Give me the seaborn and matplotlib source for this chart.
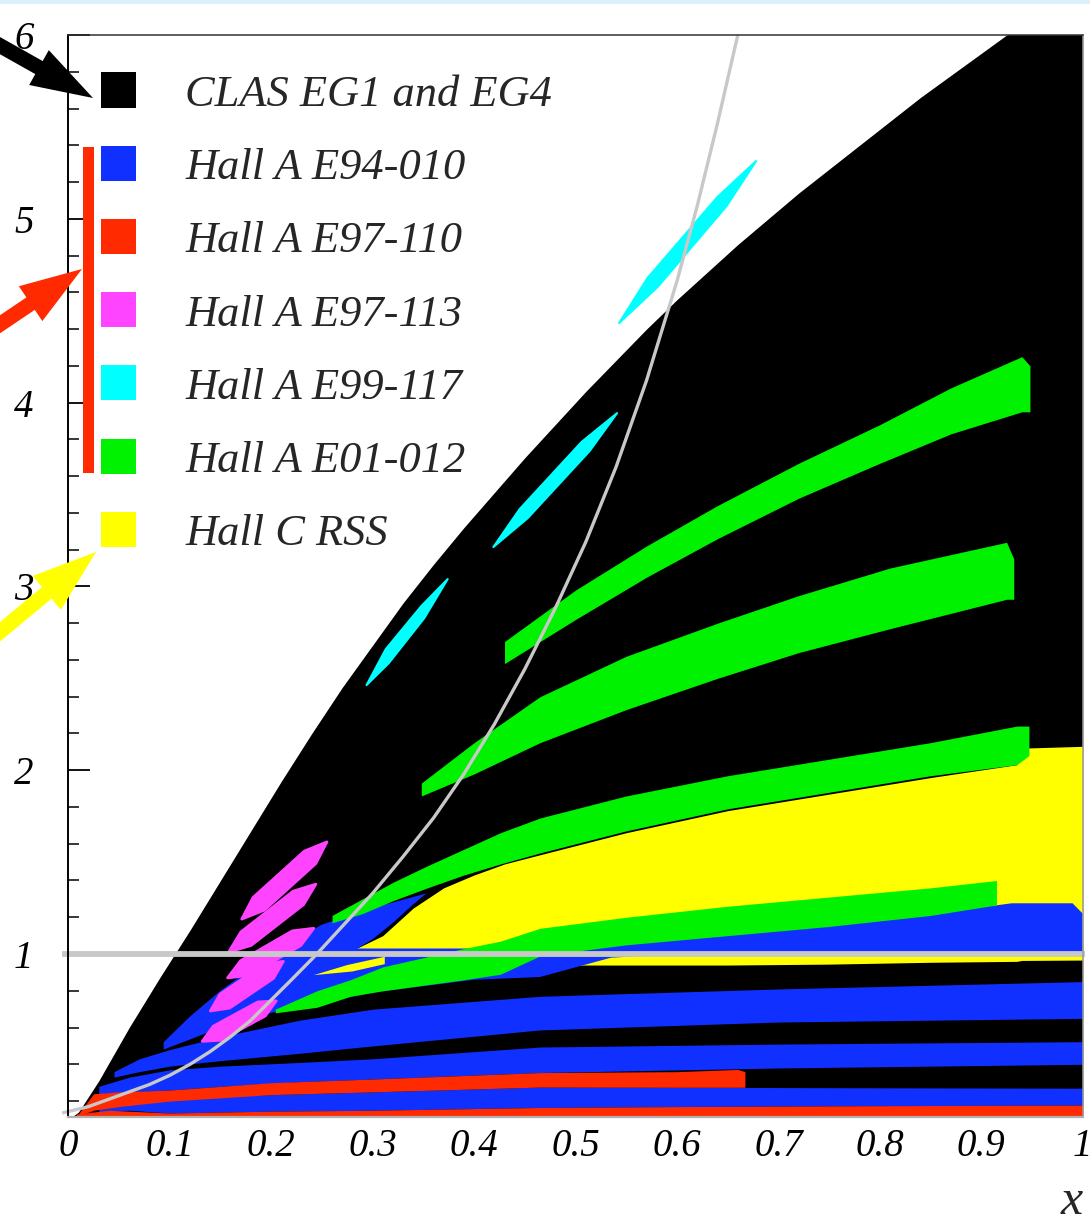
import numpy as np
import matplotlib
matplotlib.use("Agg")
import matplotlib.pyplot as plt
from matplotlib.patches import Rectangle, FancyArrow
from matplotlib.ticker import MultipleLocator, FixedLocator
import seaborn as sns

# ---------------- kinematic coverage in (x, Q^2) ----------------
# CLAS EG1/EG4: filled from the axis up to the upper kinematic edge
clas_x = [0.0, 0.01, 0.03, 0.06, 0.09, 0.12, 0.15, 0.18, 0.21, 0.24, 0.27, 0.30, 0.33,
          0.36, 0.39, 0.42, 0.45, 0.48, 0.51, 0.54, 0.57, 0.60, 0.63, 0.66, 0.69, 0.72,
          0.75, 0.78, 0.81, 0.84, 0.87, 0.90, 0.93, 0.96, 1.0]
clas_top = [0.10, 0.14, 0.31, 0.60, 0.87, 1.13, 1.40, 1.67, 1.94, 2.20, 2.45, 2.68, 2.91,
            3.12, 3.32, 3.51, 3.70, 3.88, 4.06, 4.23, 4.40, 4.56, 4.71, 4.86, 5.00, 5.14,
            5.27, 5.40, 5.53, 5.66, 5.78, 5.90, 6.02, 6.14, 6.30]

# Hall C RSS (main region and the small sliver near x = 0.27)
rss_x = [0.24, 0.28, 0.31, 0.34, 0.37, 0.40, 0.43, 0.465, 0.55, 0.65, 0.75, 0.85, 0.935, 0.94, 1.0]
rss_hi = [0.98, 1.02, 1.10, 1.25, 1.36, 1.43, 1.49, 1.54, 1.66, 1.78, 1.87, 1.96, 2.03, 2.12, 2.13]
rss_lo = [0.95, 0.95, 0.95, 0.94, 0.94, 0.94, 0.94, 0.94, 0.94, 0.94, 0.945, 0.955, 0.96, 0.965, 0.967]
rss_tip_x = [0.242, 0.275, 0.312, 0.312, 0.28]
rss_tip_y = [0.885, 0.94, 0.985, 0.945, 0.905]

# Hall A E94-010 (lower bands and the upper band)
e94_b3_x = [0.03, 0.06, 0.10, 0.20, 0.30, 0.465, 0.60, 0.80, 1.0]
e94_b3_hi = [0.17, 0.20, 0.215, 0.235, 0.25, 0.276, 0.275, 0.272, 0.27]
e94_b3_lo = [0.14, 0.15, 0.135, 0.145, 0.15, 0.165, 0.17, 0.175, 0.178]

e94_b2_x = [0.03, 0.06, 0.10, 0.15, 0.228, 0.30, 0.465, 0.70, 1.0]
e94_b2_hi = [0.28, 0.33, 0.37, 0.39, 0.41, 0.43, 0.494, 0.51, 0.523]
e94_b2_lo = [0.24, 0.25, 0.26, 0.28, 0.305, 0.32, 0.355, 0.38, 0.40]

e94_b1_x = [0.045, 0.07, 0.10, 0.15, 0.228, 0.30, 0.465, 0.70, 1.0]
e94_b1_hi = [0.36, 0.43, 0.48, 0.55, 0.64, 0.70, 0.77, 0.81, 0.85]
e94_b1_lo = [0.33, 0.36, 0.39, 0.42, 0.46, 0.50, 0.587, 0.63, 0.65]

e94_top_x = [0.094, 0.12, 0.15, 0.20, 0.25, 0.30, 0.353, 0.34, 0.32, 0.30, 0.285, 0.40,
             0.465, 0.55, 0.65, 0.75, 0.85, 0.915, 0.93, 0.99, 1.0, 1.0, 0.60, 0.535,
             0.465, 0.40, 0.30, 0.20, 0.15, 0.12, 0.094]
e94_top_y = [0.52, 0.66, 0.80, 1.00, 1.16, 1.25, 1.33, 1.27, 1.17, 1.08, 1.03, 1.03,
             1.04, 1.08, 1.12, 1.17, 1.23, 1.265, 1.276, 1.276, 1.22, 1.0, 1.0, 0.98,
             0.875, 0.86, 0.79, 0.68, 0.60, 0.535, 0.48]

# Hall A E97-110 (two bands)
e97110_r0_x = [0.008, 0.04, 0.10, 0.20, 0.30, 0.465, 0.60, 0.80, 1.0]
e97110_r0_hi = [0.13, 0.15, 0.135, 0.145, 0.15, 0.165, 0.17, 0.175, 0.178]
e97110_r0_lo = [0.0, 0.0, 0.0, 0.0, 0.0, 0.0, 0.0, 0.0, 0.0]

e97110_r1_x = [0.01, 0.025, 0.05, 0.10, 0.20, 0.30, 0.465, 0.60, 0.66, 0.667]
e97110_r1_hi = [0.13, 0.24, 0.25, 0.26, 0.30, 0.32, 0.355, 0.36, 0.372, 0.36]
e97110_r1_lo = [0.12, 0.15, 0.17, 0.20, 0.235, 0.25, 0.276, 0.275, 0.275, 0.275]

# Hall A E01-012 (four bands)
e01_g1_x = [0.430, 0.50, 0.57, 0.64, 0.72, 0.80, 0.87, 0.94, 0.948]
e01_g1_hi = [2.70, 2.98, 3.22, 3.44, 3.67, 3.88, 4.08, 4.25, 4.20]
e01_g1_lo = [2.58, 2.82, 3.05, 3.26, 3.48, 3.67, 3.83, 3.95, 3.95]

e01_g2_x = [0.348, 0.40, 0.465, 0.55, 0.64, 0.72, 0.81, 0.925, 0.932]
e01_g2_hi = [1.93, 2.15, 2.40, 2.62, 2.80, 2.95, 3.10, 3.24, 3.15]
e01_g2_lo = [1.86, 1.98, 2.15, 2.33, 2.50, 2.64, 2.77, 2.93, 2.93]

e01_g3_x = [0.26, 0.29, 0.32, 0.354, 0.39, 0.426, 0.465, 0.55, 0.65, 0.75, 0.85, 0.935, 0.947]
e01_g3_hi = [1.21, 1.30, 1.39, 1.48, 1.57, 1.66, 1.74, 1.86, 1.97, 2.06, 2.15, 2.24, 2.24]
e01_g3_lo = [1.17, 1.22, 1.29, 1.36, 1.43, 1.49, 1.55, 1.67, 1.79, 1.88, 1.97, 2.03, 2.08]

e01_g4_x = [0.204, 0.245, 0.278, 0.31, 0.35, 0.39, 0.426, 0.465, 0.55, 0.65, 0.75, 0.85, 0.915]
e01_g4_hi = [0.70, 0.80, 0.86, 0.93, 0.98, 1.03, 1.07, 1.14, 1.20, 1.26, 1.31, 1.36, 1.40]
e01_g4_lo = [0.68, 0.71, 0.77, 0.80, 0.83, 0.86, 0.89, 0.99, 1.05, 1.10, 1.15, 1.21, 1.267]

# Hall A E97-113 (five overlapping settings, outlines)
e97113_a_x = [0.171, 0.1934, 0.2440, 0.255, 0.2327, 0.1822]
e97113_a_y = [1.19, 1.239, 1.492, 1.61, 1.560, 1.308]
e97113_b_x = [0.158, 0.1803, 0.2320, 0.244, 0.2217, 0.1701]
e97113_b_y = [1.01, 1.047, 1.269, 1.38, 1.342, 1.120]
e97113_c_x = [0.157, 0.1781, 0.2292, 0.242, 0.2209, 0.1699]
e97113_c_y = [0.87, 0.884, 1.046, 1.14, 1.126, 0.964]
e97113_d_x = [0.140, 0.1591, 0.2024, 0.212, 0.1929, 0.1496]
e97113_d_y = [0.69, 0.706, 0.868, 0.96, 0.944, 0.782]
e97113_e_x = [0.132, 0.1503, 0.1942, 0.205, 0.1867, 0.1428]
e97113_e_y = [0.525, 0.531, 0.663, 0.745, 0.739, 0.607]

# Hall A E99-117 (three settings)
e99_1_x = [0.294, 0.316, 0.351, 0.374, 0.348, 0.313]
e99_1_y = [2.463, 2.583, 2.828, 3.040, 2.893, 2.659]
e99_2_x = [0.419, 0.453, 0.514, 0.541, 0.506, 0.445]
e99_2_y = [3.214, 3.372, 3.737, 3.943, 3.786, 3.421]
e99_3_x = [0.543, 0.581, 0.649, 0.678, 0.640, 0.571]
e99_3_y = [4.433, 4.629, 5.070, 5.314, 5.119, 4.678]

# W = 2 GeV line
w2_x = [-0.006, 0.02, 0.04, 0.06, 0.08, 0.10, 0.12, 0.14, 0.16, 0.18, 0.20, 0.22, 0.245,
        0.27, 0.30, 0.33, 0.36, 0.39, 0.42, 0.45, 0.48, 0.51, 0.54, 0.57, 0.60, 0.62,
        0.64, 0.66]
w2_q2 = [0.135, 0.17, 0.21, 0.25, 0.29, 0.34, 0.40, 0.47, 0.55, 0.64, 0.75, 0.86, 1.00,
         1.15, 1.33, 1.53, 1.74, 1.98, 2.25, 2.55, 2.88, 3.24, 3.65, 4.12, 4.66, 5.07,
         5.52, 6.0]

x_ticks = [0.0, 0.1, 0.2, 0.3, 0.4, 0.5, 0.6, 0.7, 0.8, 0.9, 1.0]
x_tick_labels = ["0", "0.1", "0.2", "0.3", "0.4", "0.5", "0.6", "0.7", "0.8", "0.9", "1"]
y_ticks = [1, 2, 3, 4, 5, 6]
y_tick_labels = ["1", "2", "3", "4", "5", "6"]

legend_labels = ["CLAS EG1 and EG4", "Hall A E94-010", "Hall A E97-110",
                 "Hall A E97-113", "Hall A E99-117", "Hall A E01-012", "Hall C RSS"]

BLACK = "#000000"
BLUE = "#1030ff"
RED = "#ff2a00"
MAGENTA = "#ff44ff"
CYAN = "#00ffff"
GREEN = "#00f200"
YELLOW = "#ffff00"
GREY = "#c8c8c8"
legend_colors = [BLACK, BLUE, RED, MAGENTA, CYAN, GREEN, YELLOW]

# ---------------- figure ----------------
sns.set_theme(style="white")
plt.rcParams["font.family"] = ["Liberation Serif", "DejaVu Serif"]
SERIF = ["Liberation Serif", "DejaVu Serif"]

W, H = 1090, 1224
fig = plt.figure(figsize=(W / 100, H / 100), dpi=100)
fig.patch.set_facecolor("white")


def fx(px):
    return px / W


def fy(py):
    return 1 - py / H


ax = fig.add_axes([fx(68.3), fy(1116.5), (1082.7 - 68.3) / W, (1116.5 - 35) / H])
ax.set_xlim(0, 1)
ax.set_ylim(0.116, 6.0)
ax.set_facecolor("white")


def band(x, lo, hi, color, z):
    ax.fill_between(x, lo, hi, color=color, lw=0, zorder=z)


def patch(x, y, color, z):
    ax.fill(x, y, color=color, lw=0, zorder=z)


band(clas_x, 0.0, clas_top, BLACK, 1)
band(rss_x, rss_lo, rss_hi, YELLOW, 2)
band(e94_b3_x, e94_b3_lo, e94_b3_hi, BLUE, 3)
band(e94_b2_x, e94_b2_lo, e94_b2_hi, BLUE, 3)
band(e94_b1_x, e94_b1_lo, e94_b1_hi, BLUE, 3)
patch(e94_top_x, e94_top_y, BLUE, 3)
patch(rss_tip_x, rss_tip_y, YELLOW, 3.5)
band(e97110_r0_x, e97110_r0_lo, e97110_r0_hi, RED, 4)
band(e97110_r1_x, e97110_r1_lo, e97110_r1_hi, RED, 4)
for gx, glo, ghi in [(e01_g1_x, e01_g1_lo, e01_g1_hi), (e01_g2_x, e01_g2_lo, e01_g2_hi),
                     (e01_g3_x, e01_g3_lo, e01_g3_hi), (e01_g4_x, e01_g4_lo, e01_g4_hi)]:
    band(gx, glo, ghi, GREEN, 5)
for mx, my in [(e97113_a_x, e97113_a_y), (e97113_b_x, e97113_b_y), (e97113_c_x, e97113_c_y),
               (e97113_d_x, e97113_d_y), (e97113_e_x, e97113_e_y)]:
    ax.fill(mx, my, color=MAGENTA, lw=2.0, ec=MAGENTA, joinstyle="round", zorder=6)
for cx, cy in [(e99_1_x, e99_1_y), (e99_2_x, e99_2_y), (e99_3_x, e99_3_y)]:
    ax.fill(cx, cy, color=CYAN, lw=1.5, ec=CYAN, joinstyle="round", zorder=6)

# reference lines: W = 2 GeV and Q^2 = 1 GeV^2
sns.lineplot(x=w2_x, y=w2_q2, ax=ax, color=GREY, lw=2.4, sort=False, estimator=None, zorder=8)
sns.lineplot(x=[-0.0065, 1.0025], y=[1.0, 1.0], ax=ax, color=GREY, lw=4.2, sort=False,
             estimator=None, zorder=8)
for ln in ax.lines:
    ln.set_clip_on(False)
    ln.set_solid_capstyle("butt")
    ln.set_solid_joinstyle("round")

# axes styling
ax.xaxis.set_major_locator(FixedLocator(x_ticks))
ax.set_xticklabels(x_tick_labels)
ax.yaxis.set_major_locator(FixedLocator(y_ticks))
ax.set_yticklabels(y_tick_labels)
ax.yaxis.set_minor_locator(MultipleLocator(0.2))
ax.tick_params(axis="y", which="major", direction="in", length=15.8, width=1.3,
               color="black", pad=25, labelsize=28, left=True)
ax.tick_params(axis="y", which="minor", direction="in", length=8.0, width=1.1,
               color="black", left=True)
ax.tick_params(axis="x", which="both", length=0, pad=8, labelsize=28, bottom=True)
for lab in ax.get_xticklabels() + ax.get_yticklabels():
    lab.set_fontstyle("italic")
    lab.set_family(SERIF)
    lab.set_color("black")
ax.set_xlabel("")
ax.set_ylabel("")
ax.grid(False)
ax.spines["left"].set_color("black")
ax.spines["left"].set_linewidth(1.4)
ax.spines["top"].set_color("#333333")
ax.spines["top"].set_linewidth(1.1)
ax.spines["right"].set_color("#9a9a9a")
ax.spines["right"].set_linewidth(1.1)
ax.spines["bottom"].set_color("#b0b0b0")
ax.spines["bottom"].set_linewidth(1.6)
for sp in ax.spines.values():
    sp.set_zorder(9)

fig.text(fx(1071.7), fy(1214), "x", fontsize=36, style="italic", family=SERIF,
         ha="center", va="baseline")

# legend
for i, (lab, col) in enumerate(zip(legend_labels, legend_colors)):
    cy = 90 + 73.2 * i
    fig.add_artist(Rectangle((fx(101), fy(cy + 17.5)), 35 / W, 35 / H,
                             transform=fig.transFigure, color=col, lw=0, zorder=5))
    fig.text(fx(185), fy(106 + 73.2 * i), lab, fontsize=32, style="italic", family=SERIF,
             ha="left", va="baseline", zorder=5)

# E97-110 marker bar
fig.add_artist(Rectangle((fx(83), fy(472.7)), 11 / W, (472.7 - 146.7) / H,
                         transform=fig.transFigure, color=RED, lw=0, zorder=5))


# pointer arrows (pixel geometry converted to inches)
def arrow(x0, y0, x1, y1, color, width, head_w, head_l):
    a = FancyArrow(x0 / 100, (H - y0) / 100, (x1 - x0) / 100, -(y1 - y0) / 100,
                   width=width / 100, head_width=head_w / 100, head_length=head_l / 100,
                   length_includes_head=True, transform=fig.dpi_scale_trans,
                   color=color, lw=0, zorder=6)
    fig.add_artist(a)


arrow(-10, 40, 93, 98, BLACK, 15, 40, 62)
arrow(-10, 331, 82, 269, RED, 15, 42, 62)
arrow(-10, 640, 96, 552, YELLOW, 15, 44, 64)

# thin light-blue band along the top edge
fig.add_artist(Rectangle((0, fy(4)), 1, 4 / H, transform=fig.transFigure,
                         color="#dcf0fb", lw=0, zorder=0))

fig.savefig("out.png", dpi=100)
